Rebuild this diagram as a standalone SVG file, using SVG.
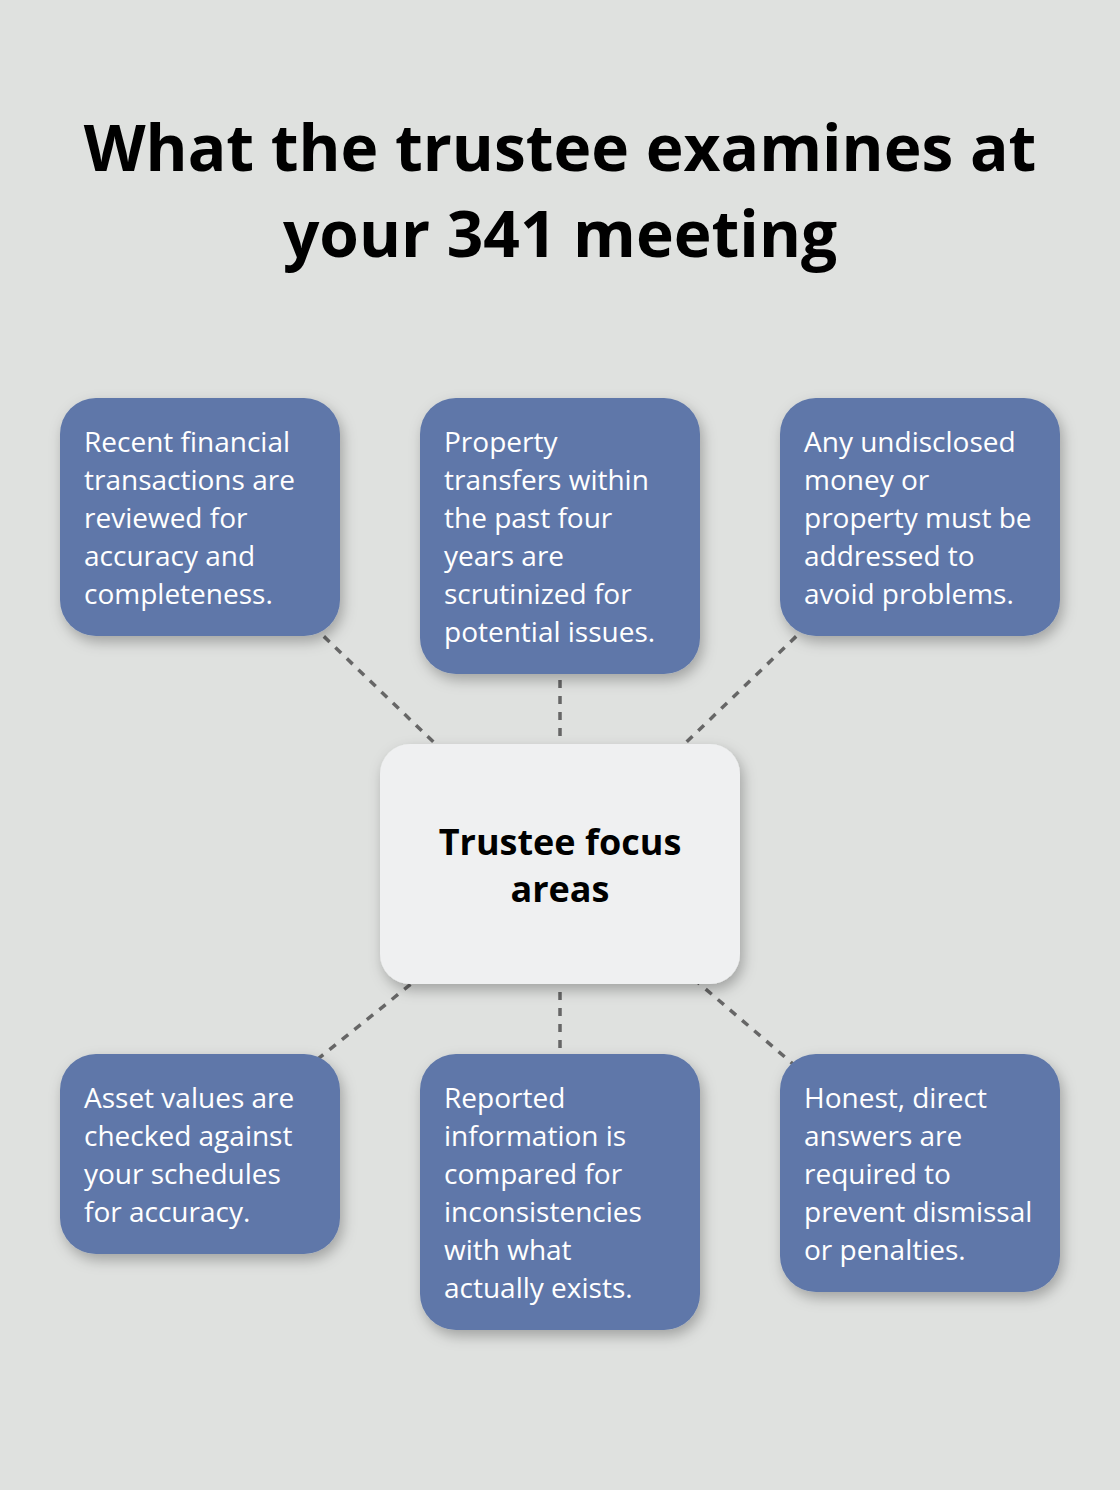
<svg xmlns="http://www.w3.org/2000/svg" width="1120" height="1490" viewBox="0 0 1120 1490">
<defs>
<filter id="sh" x="-20%" y="-20%" width="140%" height="150%">
<feDropShadow dx="3" dy="6" stdDeviation="7" flood-color="#000" flood-opacity="0.28"/>
</filter>
<style>
.title{font-family:"Open Sans","Noto Sans",sans-serif;font-weight:700;font-size:64px;fill:#000;text-anchor:middle}
.box{fill:#5e77a9;filter:url(#sh)}
.hub{fill:#eff0f1;filter:url(#sh)}
.t{font-family:"Open Sans","Noto Sans",sans-serif;font-size:28px;fill:#fff}
.ht{font-family:"Open Sans","Noto Sans",sans-serif;font-weight:700;font-size:36px;fill:#000;text-anchor:middle}
.c{stroke:#666;stroke-width:3.5;stroke-dasharray:8 8;fill:none}
</style>
</defs>
<rect width="1120" height="1490" fill="#dfe1df"/>
<g id="title">
<text class="title" x="560" y="171">What the trustee examines at</text>
<text class="title" x="560" y="257">your 341 meeting</text>
</g>
<g id="connectors">
<line class="c" x1="560" y1="864" x2="200" y2="517"/>
<line class="c" x1="560" y1="864" x2="560" y2="536"/>
<line class="c" x1="560" y1="864" x2="920" y2="517"/>
<line class="c" x1="560" y1="864" x2="200" y2="1154"/>
<line class="c" x1="560" y1="864" x2="560" y2="1192"/>
<line class="c" x1="560" y1="864" x2="920" y2="1173"/>
</g>
<g id="node-tl">
<rect class="box" x="60" y="398" width="280" height="238" rx="36"/>
<text class="t" x="84"><tspan x="84" y="452">Recent financial</tspan><tspan x="84" y="490">transactions are</tspan><tspan x="84" y="528">reviewed for</tspan><tspan x="84" y="566">accuracy and</tspan><tspan x="84" y="604">completeness.</tspan></text>
</g>
<g id="node-tc">
<rect class="box" x="420" y="398" width="280" height="276" rx="36"/>
<text class="t"><tspan x="444" y="452">Property</tspan><tspan x="444" y="490">transfers within</tspan><tspan x="444" y="528">the past four</tspan><tspan x="444" y="566">years are</tspan><tspan x="444" y="604">scrutinized for</tspan><tspan x="444" y="642">potential issues.</tspan></text>
</g>
<g id="node-tr">
<rect class="box" x="780" y="398" width="280" height="238" rx="36"/>
<text class="t"><tspan x="804" y="452">Any undisclosed</tspan><tspan x="804" y="490">money or</tspan><tspan x="804" y="528">property must be</tspan><tspan x="804" y="566">addressed to</tspan><tspan x="804" y="604">avoid problems.</tspan></text>
</g>
<g id="node-hub">
<rect class="hub" x="380" y="744" width="360" height="240" rx="30"/>
<text class="ht"><tspan x="560" y="855">Trustee focus</tspan><tspan x="560" y="902">areas</tspan></text>
</g>
<g id="node-bl">
<rect class="box" x="60" y="1054" width="280" height="200" rx="36"/>
<text class="t"><tspan x="84" y="1108">Asset values are</tspan><tspan x="84" y="1146">checked against</tspan><tspan x="84" y="1184">your schedules</tspan><tspan x="84" y="1222">for accuracy.</tspan></text>
</g>
<g id="node-bc">
<rect class="box" x="420" y="1054" width="280" height="276" rx="36"/>
<text class="t"><tspan x="444" y="1108">Reported</tspan><tspan x="444" y="1146">information is</tspan><tspan x="444" y="1184">compared for</tspan><tspan x="444" y="1222">inconsistencies</tspan><tspan x="444" y="1260">with what</tspan><tspan x="444" y="1298">actually exists.</tspan></text>
</g>
<g id="node-br">
<rect class="box" x="780" y="1054" width="280" height="238" rx="36"/>
<text class="t"><tspan x="804" y="1108">Honest, direct</tspan><tspan x="804" y="1146">answers are</tspan><tspan x="804" y="1184">required to</tspan><tspan x="804" y="1222">prevent dismissal</tspan><tspan x="804" y="1260">or penalties.</tspan></text>
</g>
</svg>
